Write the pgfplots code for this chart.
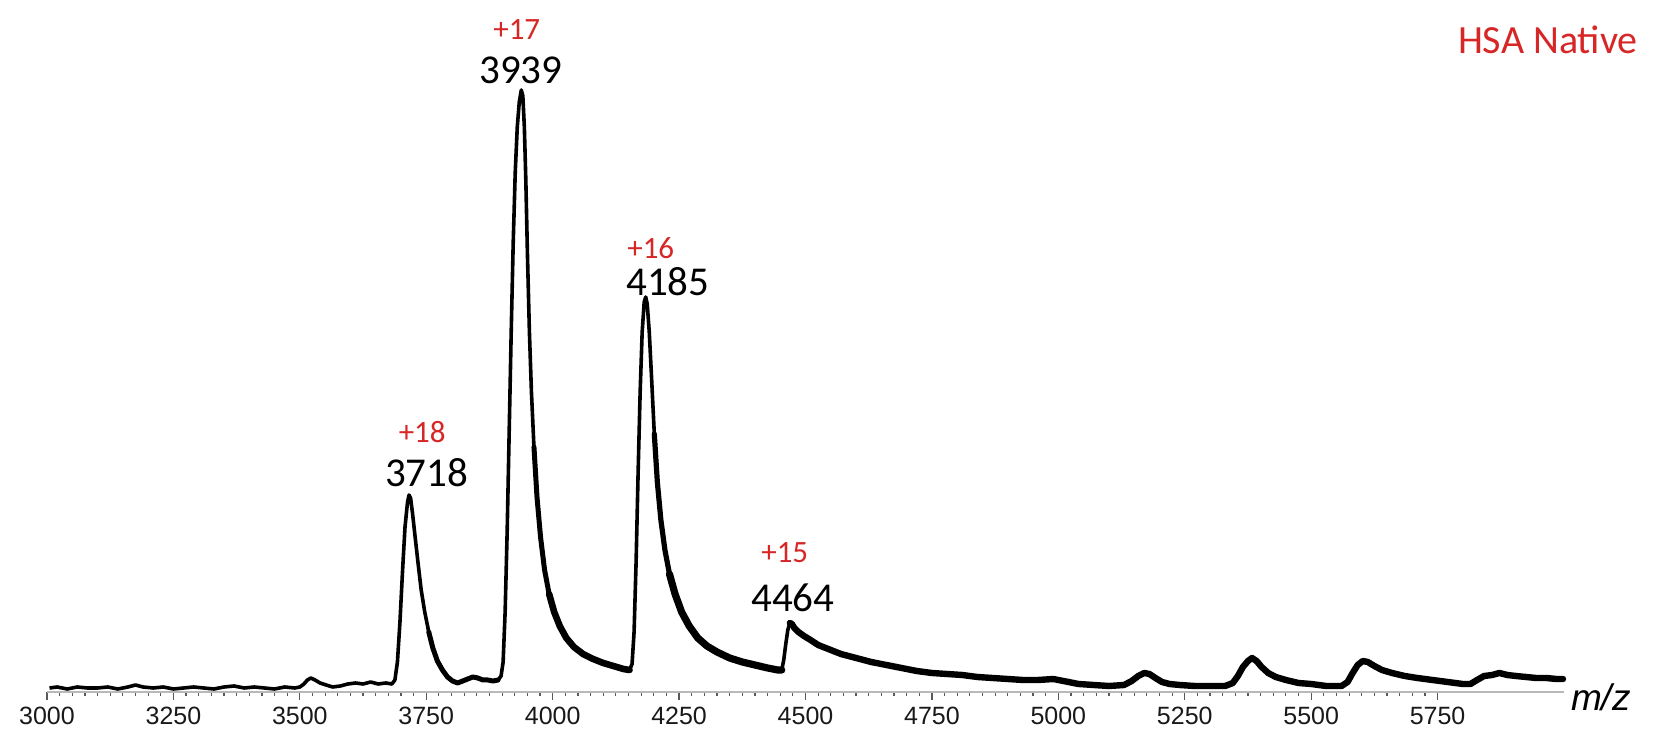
\documentclass[border=0pt]{standalone}
\usepackage{fontspec}
\setmainfont{Liberation Sans}
\newfontfamily\calfont{Carlito}
\usepackage{pgfplots}
\pgfplotsset{compat=1.18}
\definecolor{hsared}{RGB}{214,38,38}
\begin{document}
\begin{tikzpicture}
\useasboundingbox (-23.5pt,-20pt) rectangle (805.5pt,346pt);
\begin{axis}[
  at={(0,0)}, anchor=south west,
  width=758.5pt, height=346pt, scale only axis,
  xmin=3000, xmax=6000, ymin=0, ymax=692,
  axis x line=bottom, axis y line=none,
  axis line style={-, gray!55, line width=1pt},
  xtick={3000,3250,...,5750},
  minor x tick num=9,
  tick align=outside,
  major tick length=4pt, minor tick length=2pt,
  every tick/.style={black!65, line width=0.6pt},
  xticklabel style={font=\fontsize{12.5}{14}\selectfont, text=black!90},
  /pgf/number format/assume math mode=true,
  /pgf/number format/1000 sep={},
  clip=false,
]
\addplot[black, line width=1.8pt, line join=round] coordinates {
(3005,4) (3020,5) (3040,3) (3060,5) (3080,4) (3100,4) (3120,5) (3140,3) (3160,5) (3175,7)
(3190,5) (3210,4) (3230,5) (3250,3) (3270,4) (3290,5) (3310,4) (3330,3) (3350,5) (3370,6)
(3390,4) (3410,5) (3430,4) (3450,3) (3470,5) (3490,4) (3500,5) (3508,8) (3515,12) (3522,14)
(3530,12) (3540,9) (3552,7) (3565,5) (3580,6) (3595,8) (3610,9) (3625,8) (3640,10) (3655,8)
(3670,9) (3682,8) (3688,12) (3693,30) (3698,70) (3703,120) (3708,165) (3713,190) (3716,197) (3719,194)
(3723,178) (3728,155) (3734,128) (3740,102) (3747,80) (3755,60) (3763,44) (3772,31) (3782,22) (3792,15)
(3802,11) (3812,9) (3822,11) (3832,13) (3842,15) (3852,14) (3862,12) (3872,12) (3882,11) (3892,12)
(3898,16) (3902,30) (3906,80) (3910,160) (3914,260) (3918,360) (3922,450) (3926,520) (3930,565) (3934,590)
(3938,602) (3941,596) (3944,565) (3947,510) (3950,440) (3954,360) (3958,300) (3963,245) (3969,195) (3976,155)
(3984,122) (3993,98) (4003,80) (4014,66) (4027,54) (4042,45) (4060,38) (4080,33) (4100,29) (4120,26)
(4140,23) (4152,22) (4157,28) (4161,60) (4165,130) (4169,220) (4173,300) (4177,360) (4181,390) (4184,395)
(4187,388) (4191,360) (4196,310) (4201,258) (4207,210) (4214,172) (4222,142) (4231,118) (4242,98) (4255,80)
(4270,66) (4287,54) (4305,46) (4325,40) (4350,34) (4375,30) (4400,27) (4425,24) (4445,22) (4453,22)
(4457,32) (4461,48) (4465,62) (4469,69) (4473,68) (4478,64) (4486,60) (4497,56) (4510,52) (4525,47)
(4545,43) (4570,38) (4600,34) (4630,30) (4660,27) (4690,24) (4720,21) (4750,19) (4780,18) (4810,17)
(4840,15) (4870,14) (4900,13) (4930,12) (4960,12) (4990,13) (5010,11) (5040,8) (5070,7) (5100,6)
(5130,7) (5145,11) (5158,16) (5170,19) (5180,18) (5192,14) (5205,10) (5220,8) (5240,7) (5270,6)
(5300,6) (5330,6) (5345,9) (5355,16) (5365,25) (5375,31) (5383,34) (5392,31) (5402,25) (5415,19)
(5430,15) (5450,12) (5475,9) (5500,8) (5530,6) (5560,6) (5572,10) (5582,19) (5592,27) (5602,31)
(5612,30) (5625,26) (5640,22) (5660,19) (5685,16) (5710,14) (5740,12) (5770,10) (5800,8) (5815,8)
(5828,12) (5842,16) (5858,17) (5872,19) (5888,17) (5905,16) (5925,15) (5945,14) (5965,14) (5985,13)
(5998,13)
};
% thicker noisy band along the tails (graded)
\addplot[black, line width=2.5pt, line join=round, line cap=round] coordinates {
(3963,245) (3969,195) (3976,155) (3984,122) (3993,98) (4003,80)
};
\addplot[black, line width=3.3pt, line join=round, line cap=round] coordinates {
(3993,98) (4003,80) (4014,66) (4027,54) (4042,45) (4060,38) (4080,33) (4100,29)
(4120,26) (4140,23) (4152,22)
};
\addplot[black, line width=2.6pt, line join=round, line cap=round] coordinates {
(4201,258) (4207,210) (4214,172) (4222,142) (4231,118) (4242,98)
};
\addplot[black, line width=3.6pt, line join=round, line cap=round] coordinates {
(4231,118) (4242,98) (4255,80)
(4270,66) (4287,54) (4305,46) (4325,40) (4350,34) (4375,30) (4400,27) (4425,24) (4445,22) (4453,22)
};
\addplot[black, line width=3.2pt, line join=round, line cap=round] coordinates {
(4469,69) (4473,68) (4478,64) (4486,60) (4497,56) (4510,52) (4525,47)
(4545,43) (4570,38) (4600,34) (4630,30) (4660,27) (4690,24) (4720,21) (4750,19) (4780,18) (4810,17)
(4840,15) (4870,14) (4900,13) (4930,12) (4960,12) (4990,13) (5010,11) (5040,8) (5070,7) (5100,6)
(5130,7) (5145,11) (5158,16) (5170,19) (5180,18) (5192,14) (5205,10) (5220,8) (5240,7) (5270,6)
(5300,6) (5330,6) (5345,9) (5355,16) (5365,25) (5375,31) (5383,34) (5392,31) (5402,25) (5415,19)
(5430,15) (5450,12) (5475,9) (5500,8) (5530,6) (5560,6) (5572,10) (5582,19) (5592,27) (5602,31)
(5612,30) (5625,26) (5640,22) (5660,19) (5685,16) (5710,14) (5740,12) (5770,10) (5800,8) (5815,8)
(5828,12) (5842,16) (5858,17) (5872,19) (5888,17) (5905,16) (5925,15) (5945,14) (5965,14) (5985,13)
(5998,13)
};
\addplot[black, line width=2.5pt, line join=round, line cap=round] coordinates {
(3755,60) (3763,44) (3772,31) (3782,22) (3792,15)
(3802,11) (3812,9) (3822,11) (3832,13) (3842,15) (3852,14) (3862,12) (3872,12) (3882,11) (3892,12)
};
\node[font=\calfont\fontsize{15.5}{15}\selectfont, text=hsared] at (axis cs:3929,662) {+17};
\node[font=\calfont\fontsize{20.5}{20}\selectfont] at (axis cs:3937,622) {3939};
\node[font=\calfont\fontsize{15.5}{15}\selectfont, text=hsared] at (axis cs:3742,260) {+18};
\node[font=\calfont\fontsize{20.5}{20}\selectfont] at (axis cs:3751,219) {3718};
\node[font=\calfont\fontsize{15.5}{15}\selectfont, text=hsared] at (axis cs:4194,444) {+16};
\node[font=\calfont\fontsize{20.5}{20}\selectfont] at (axis cs:4228,410) {4185};
\node[font=\calfont\fontsize{15.5}{15}\selectfont, text=hsared] at (axis cs:4459,139) {+15};
\node[font=\calfont\fontsize{20.5}{20}\selectfont] at (axis cs:4475,94) {4464};
\node[font=\calfont\fontsize{20}{20}\selectfont, text=hsared] at (axis cs:5968,652) {HSA Native};
\node[font=\itshape\fontsize{18.5}{18}\selectfont] at (axis cs:6073,-5) {m/z};
\end{axis}
\end{tikzpicture}
\end{document}
